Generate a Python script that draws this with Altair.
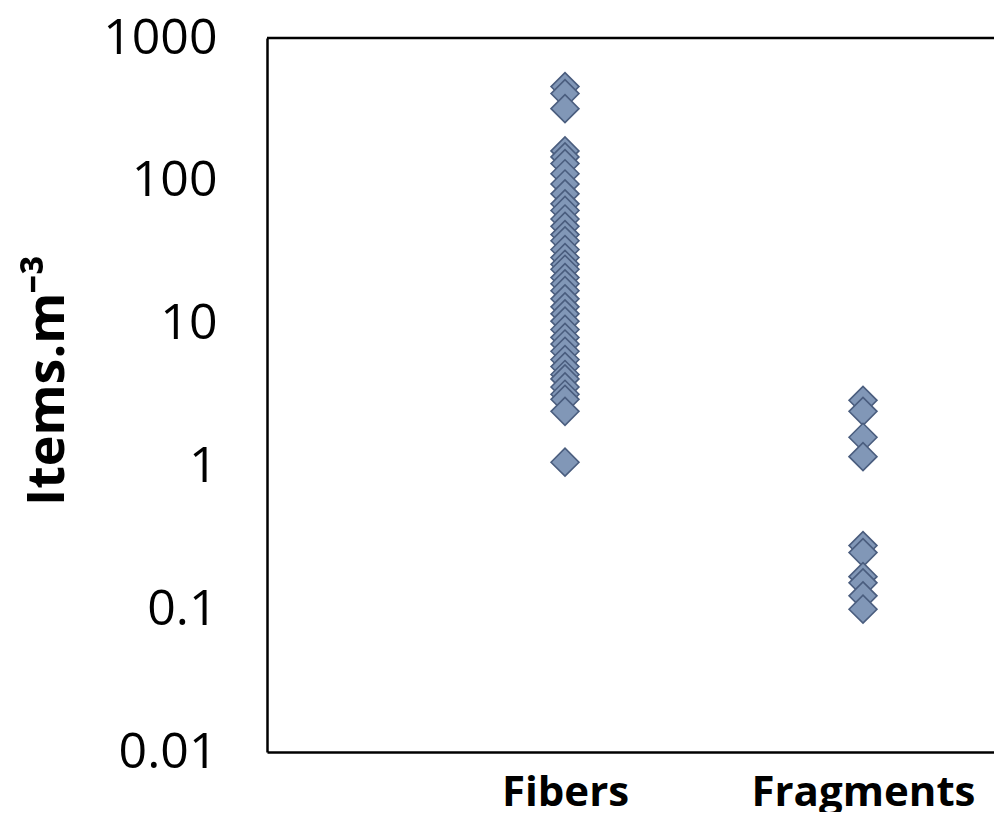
import altair as alt
import pandas as pd

categories = ["Fibers", "Fragments"]
category_index = [1, 2]

fibers = [457, 408, 320, 162, 147, 132, 112, 95, 81, 69, 62, 54, 48, 42, 38, 33,
          29, 26, 24, 21, 19, 17, 14.9, 13.1, 11.7, 10.4, 9.1, 8.0, 7.2, 6.4,
          5.6, 5.0, 4.4, 4.1, 3.6, 3.2, 2.95, 2.43, 1.07]
fragments = [2.9, 2.43, 1.6, 1.17, 0.279, 0.249, 0.169, 0.153, 0.124, 0.10]

y_ticks = [0.01, 0.1, 1, 10, 100, 1000]

rows = []
for cat, idx, vals in zip(categories, category_index, [fibers, fragments]):
    for v in vals:
        rows.append({"category": cat, "pos": idx, "value": v})
df = pd.DataFrame(rows)

W, H = 727, 714
FONT = "Open Sans"

points = alt.Chart(df).mark_point(
    shape="diamond", filled=True, size=780, fill="#8197b7", fillOpacity=1,
    stroke="#4a5d7e", strokeWidth=1.6, opacity=1
).encode(
    x=alt.X("pos:Q", scale=alt.Scale(domain=[0, W / 298.0], nice=False, zero=False),
            axis=alt.Axis(values=[1, 2], title=None, grid=False, ticks=False,
                          domainColor="black", domainWidth=2.5,
                          labelExpr="datum.value == 1 ? 'Fibers' : 'Fragments'",
                          labelFont=FONT, labelFontSize=42, labelFontWeight="bold",
                          labelColor="black", labelPadding=20, labelFlush=False,
                          labelLimit=0, labelOverlap=False)),
    y=alt.Y("value:Q", scale=alt.Scale(type="log", domain=[0.01, 1000], nice=False),
            axis=alt.Axis(values=y_ticks, format="~g", title="Items.m⁻³", grid=False,
                          ticks=False, domainColor="black", domainWidth=2.5,
                          labelFont=FONT, labelFontSize=50, labelColor="black",
                          labelPadding=50, labelFlush=False, labelOverlap=False,
                          titleFont=FONT, titleFontSize=52, titleY=342,
                          titleFontWeight="bold", titleColor="black", titlePadding=28)),
)

top_line = alt.Chart(pd.DataFrame({"a": [0]})).mark_rule(
    color="black", strokeWidth=2.5
).encode(x=alt.value(0), x2=alt.value(W), y=alt.value(0))

chart = alt.layer(top_line, points).properties(
    width=W, height=H,
    autosize=alt.AutoSizeParams(type="none"),
    padding={"left": 259, "top": 30, "right": 0, "bottom": 60},
    background="white",
).configure_view(stroke=None)

chart.save("out.html", embed_options={"renderer": "svg", "actions": False})
